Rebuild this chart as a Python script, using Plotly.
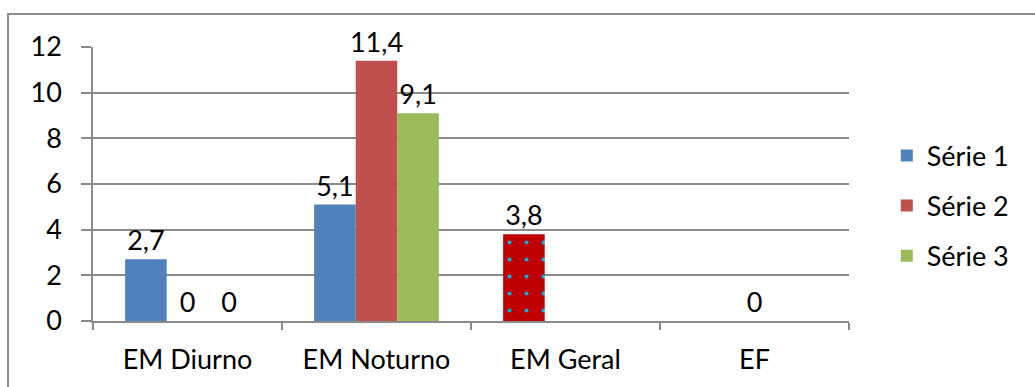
import plotly.graph_objects as go

categories = ["EM Diurno", "EM Noturno", "EM Geral", "EF"]
serie1 = [2.7, 5.1, 3.8, None]
serie2 = [0, 11.4, None, 0]
serie3 = [0, 9.1, None, None]
series_names = ["Série 1", "Série 2", "Série 3"]
series_colors = ["#4F81BD", "#C0504D", "#9BBB59"]
y_ticks = [0, 2, 4, 6, 8, 10, 12]

# EM Geral bar of Série 1 gets a dark red, dotted fill
highlight_shape = ["", "", ".", ""]
highlight_bg = ["#4F81BD", "#4F81BD", "#C00000", "#4F81BD"]


def label(v):
    if v is None:
        return ""
    return f"{v:g}".replace(".", ",")


FONT = "Lato, Calibri, sans-serif"
FS = 27

fig = go.Figure()
for name, values, color in zip(series_names, [serie1, serie2, serie3], series_colors):
    marker = dict(color=color, line=dict(width=0))
    if name == "Série 1":
        marker["pattern"] = dict(
            shape=highlight_shape,
            fgcolor="#00B0F0",
            bgcolor=highlight_bg,
            fgopacity=1,
            size=17,
            solidity=0.045,
            fillmode="overlay",
        )
    fig.add_trace(go.Bar(
        name=name,
        x=categories,
        y=values,
        marker=marker,
        text=[label(v) for v in values],
        textposition="outside",
        constraintext="none",
        textfont=dict(family=FONT, size=FS, color="black"),
        cliponaxis=False,
    ))

fig.update_layout(
    width=1035,
    height=387,
    margin=dict(l=93, r=186, t=47, b=66),
    paper_bgcolor="white",
    plot_bgcolor="white",
    barmode="group",
    bargap=0.34,
    bargroupgap=0,
    separators=",.",
    font=dict(family=FONT, size=FS, color="black"),
    legend=dict(
        x=1.05, y=0.42, xanchor="left", yanchor="middle",
        font=dict(family=FONT, size=FS),
        tracegroupgap=12,
        bgcolor="rgba(0,0,0,0)",
    ),
    showlegend=True,
)
for i, tr in enumerate(fig.data):
    tr.legendgroup = f"g{i}"

fig.update_xaxes(
    showgrid=False,
    showline=True, linecolor="#8a8a8a", linewidth=1.5,
    ticks="outside", tickson="boundaries", ticklen=7, tickcolor="#8a8a8a", tickwidth=1.5,
    ticklabelstandoff=14,
    tickfont=dict(family=FONT, size=FS),
)
fig.update_yaxes(
    range=[0, 12],
    tickvals=y_ticks,
    showgrid=True, gridcolor="#8a8a8a", gridwidth=1.5,
    showline=True, linecolor="#8a8a8a", linewidth=1.5,
    ticks="outside", ticklen=10, tickcolor="#8a8a8a", tickwidth=1.5,
    ticklabelstandoff=14,
    tickfont=dict(family=FONT, size=FS),
    zeroline=False,
)

# outer chart frame
fig.add_shape(
    type="rect", xref="paper", yref="paper",
    x0=-0.1124, x1=1.4, y0=-0.4, y1=1.12,
    line=dict(color="#8c8c8c", width=2), fillcolor="rgba(0,0,0,0)",
    layer="below",
)

fig.write_html("out.html")
